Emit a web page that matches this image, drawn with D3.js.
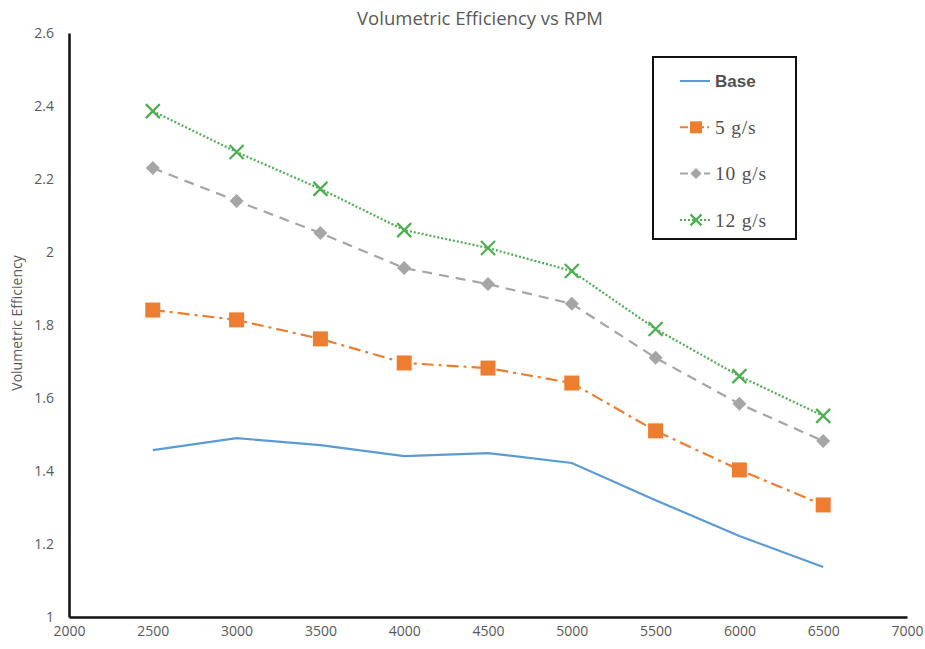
<!DOCTYPE html>
<html><head><meta charset="utf-8">
<script src="https://cdn.jsdelivr.net/npm/d3@7"></script>
<style>body{margin:0;background:#fff}</style>
</head><body>
<svg id="c" width="925" height="649"></svg>
<script>
const rpm = [2500,3000,3500,4000,4500,5000,5500,6000,6500];
const base = [1.457,1.490,1.471,1.441,1.449,1.422,1.320,1.222,1.137];
const g5 = [1.841,1.814,1.762,1.696,1.682,1.641,1.510,1.403,1.307];
const g10 = [2.230,2.140,2.052,1.956,1.912,1.858,1.710,1.584,1.482];
const g12 = [2.386,2.274,2.173,2.060,2.011,1.948,1.789,1.660,1.551];
const xTicks = [2000,2500,3000,3500,4000,4500,5000,5500,6000,6500,7000];
const yTicks = [1,1.2,1.4,1.6,1.8,2,2.2,2.4,2.6];
const seriesNames = ["Base","5 g/s","10 g/s","12 g/s"];

const svg = d3.select("#c");
const x = d3.scaleLinear().domain([2000,7000]).range([69,907]);
const y = d3.scaleLinear().domain([1,2.6]).range([617,33]);

const series = [
  {name:seriesNames[0], vals:base, color:"#5B9BD5", dash:null, marker:"none"},
  {name:seriesNames[1], vals:g5, color:"#ED7D31", dash:"12,5,3,5", marker:"square"},
  {name:seriesNames[2], vals:g10, color:"#A5A5A5", dash:"10,7", marker:"diamond"},
  {name:seriesNames[3], vals:g12, color:"#4CAF50", dash:"2,2", marker:"x"}
];

// title
svg.append("text").attr("x",480).attr("y",25).attr("text-anchor","middle")
  .attr("font-family","Open Sans, sans-serif").attr("font-size",18.5).attr("fill","#595959")
  .text("Volumetric Efficiency vs RPM");
// y label
svg.append("text").attr("transform","translate(22,323) rotate(-90)").attr("text-anchor","middle")
  .attr("font-family","Open Sans, sans-serif").attr("font-size",14).attr("fill","#595959")
  .text("Volumetric Efficiency");

// axes
const xa = svg.append("g").attr("transform","translate(0,617)")
  .call(d3.axisBottom(x).tickValues(xTicks).tickSize(0).tickPadding(9).tickFormat(d3.format("d")));
const ya = svg.append("g").attr("transform","translate(69,0)")
  .call(d3.axisLeft(y).tickValues(yTicks).tickSize(0).tickPadding(15).tickFormat(d=>String(+d.toFixed(1))));
[xa,ya].forEach(a=>{
  a.select(".domain").attr("stroke","#111").attr("stroke-width",2.5);
  a.selectAll("text").attr("font-family","Open Sans, sans-serif").attr("font-size",14).attr("fill","#595959");
});
ya.selectAll("text").attr("dy","0.35em");

const line = d3.line().x((d,i)=>x(rpm[i])).y(d=>y(d));

function marker(g, type, cx, cy, color, s){
  if(type==="square") g.append("rect").attr("x",cx-s/2).attr("y",cy-s/2).attr("width",s).attr("height",s).attr("fill",color);
  else if(type==="diamond") g.append("path").attr("d",`M${cx},${cy-s/2}L${cx+s/2},${cy}L${cx},${cy+s/2}L${cx-s/2},${cy}Z`).attr("fill",color);
  else if(type==="x") g.append("path").attr("d",`M${cx-s/2},${cy-s/2}L${cx+s/2},${cy+s/2}M${cx-s/2},${cy+s/2}L${cx+s/2},${cy-s/2}`).attr("stroke",color).attr("stroke-width",2.2).attr("fill","none");
}
const msize = {square:15, diamond:14, x:14};

series.forEach(s=>{
  const p = svg.append("path").datum(s.vals).attr("d",line).attr("fill","none")
    .attr("stroke",s.color).attr("stroke-width",2.2);
  if(s.dash) p.attr("stroke-dasharray",s.dash);
  const g = svg.append("g");
  s.vals.forEach((v,i)=>{ if(s.marker!=="none") marker(g,s.marker,x(rpm[i]),y(v),s.color,msize[s.marker]); });
});

// legend
const lg = svg.append("g");
lg.append("rect").attr("x",653).attr("y",57).attr("width",143).attr("height",182)
  .attr("fill","#fff").attr("stroke","#111").attr("stroke-width",2);
series.forEach((s,i)=>{
  const ly = 81 + i*46.3;
  const l = lg.append("line").attr("x1",680).attr("x2",710).attr("y1",ly).attr("y2",ly)
    .attr("stroke",s.color).attr("stroke-width",2);
  if(s.dash) l.attr("stroke-dasharray", i===3?"2,2":(i===2?"8,4":"8,3,2,3"));
  if(s.marker!=="none") marker(lg,s.marker,696,ly,s.color,msize[s.marker]-3);
  lg.append("text").attr("x",715).attr("y",ly).attr("dy","0.35em")
    .attr("font-family", i===0?"Liberation Sans, sans-serif":"Liberation Serif, serif")
    .attr("font-weight", i===0?"bold":"normal")
    .attr("letter-spacing", i===0?0:0.8)
    .attr("font-size",i===0?17:19.5).attr("fill","#505050").text(s.name);
});
</script>
</body></html>
